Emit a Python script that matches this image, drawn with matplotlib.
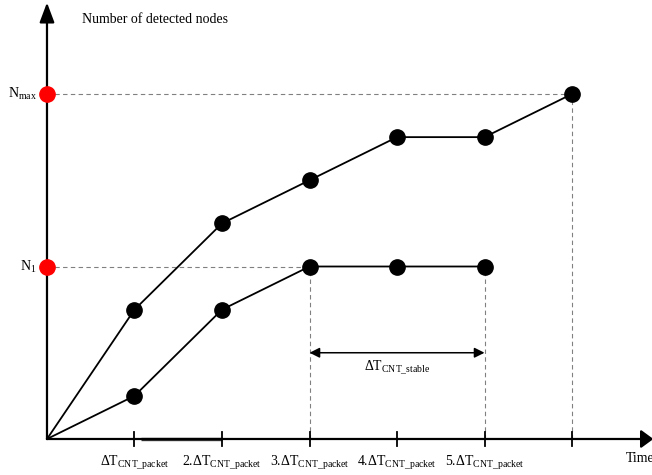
import matplotlib
matplotlib.use("Agg")
import matplotlib.pyplot as plt

plt.rcParams['font.family'] = ['Liberation Serif', 'DejaVu Serif']
plt.rcParams['mathtext.fontset'] = 'custom'
plt.rcParams['mathtext.rm'] = 'Liberation Serif'
plt.rcParams['mathtext.it'] = 'Liberation Serif'

# Data (x in units of ΔT_CNT_packet, y in node units)
upper_x = [0, 1, 2, 3, 4, 5, 6]
upper_y = [0, 3, 5, 6, 7, 7, 8]
lower_x = [0, 1, 2, 3, 4, 5]
lower_y = [0, 1, 3, 4, 4, 4]
n_max = 8
n_1 = 4
tick_pos = [1, 2, 3, 4, 5, 6]
tick_labels = [r'$\Delta\mathrm{T}_{\mathrm{CNT\_packet}}$',
               r'2.$\Delta\mathrm{T}_{\mathrm{CNT\_packet}}$',
               r'3.$\Delta\mathrm{T}_{\mathrm{CNT\_packet}}$',
               r'4.$\Delta\mathrm{T}_{\mathrm{CNT\_packet}}$',
               r'5.$\Delta\mathrm{T}_{\mathrm{CNT\_packet}}$',
               '']
stable_start, stable_end, stable_y = 3, 5, 2

fig = plt.figure(figsize=(6.52, 4.75), dpi=100)
ax = fig.add_axes([0, 0, 1, 1])
ax.set_xlim(-0.537, 6.914)
ax.set_ylim(-0.835, 10.18)
ax.axis('off')

dash_kw = dict(color='#808080', lw=0.8, ls=(0, (4, 3)))
# dashed guides
ax.plot([0, 6], [n_max, n_max], **dash_kw)
ax.plot([0, 3], [n_1, n_1], **dash_kw)
ax.plot([3, 3], [0, n_1], **dash_kw)
ax.plot([5, 5], [0, n_1], **dash_kw)
ax.plot([6, 6], [0, n_max], **dash_kw)

# axes arrows
ax.annotate('', xy=(0, 10.12), xytext=(0, 0), annotation_clip=False,
            arrowprops=dict(arrowstyle='-|>,head_width=0.45,head_length=1.2',
                            color='black', lw=1.6, shrinkA=0, shrinkB=0))
ax.annotate('', xy=(6.93, 0), xytext=(0, 0), annotation_clip=False,
            arrowprops=dict(arrowstyle='-|>,head_width=0.55,head_length=0.75',
                            color='black', lw=1.6, shrinkA=0, shrinkB=0))
# slightly heavier segment on the time axis (as in the original drawing)
ax.plot([1.08, 2.0], [0, 0], color='#333333', lw=2.4, solid_capstyle='butt')

# ticks
for t in tick_pos:
    ax.plot([t, t], [-0.17, 0.17], color='black', lw=1.3)
for t, lab in zip(tick_pos, tick_labels):
    ax.text(t, -0.55, lab, ha='center', va='center', fontsize=10)
ax.text(6.62, -0.45, 'Time', ha='left', va='center', fontsize=10)

# series
ax.plot(upper_x, upper_y, color='black', lw=1.3)
ax.plot(lower_x, lower_y, color='black', lw=1.3)
ax.plot(upper_x[1:], upper_y[1:], 'o', color='black', ms=11)
ax.plot(lower_x[1:], lower_y[1:], 'o', color='black', ms=11)

# red points on y axis
ax.plot([0, 0], [n_max, n_1], 'o', color='#ff0000', ms=11, zorder=5)
ax.text(-0.12, n_max, r'N$_{\mathrm{max}}$', ha='right', va='center', fontsize=10)
ax.text(-0.12, n_1, r'N$_{1}$', ha='right', va='center', fontsize=10)

# y axis label
ax.text(0.4, 9.72, 'Number of detected nodes', ha='left', va='center', fontsize=10)

# stable double arrow
ax.annotate('', xy=(stable_end, stable_y), xytext=(stable_start, stable_y),
            arrowprops=dict(arrowstyle='<|-|>,head_width=0.3,head_length=0.6',
                            color='black', lw=1.1, shrinkA=0, shrinkB=0))
ax.text((stable_start + stable_end) / 2, stable_y - 0.35,
        r'$\Delta\mathrm{T}_{\mathrm{CNT\_stable}}$', ha='center', va='center', fontsize=10)

fig.savefig('out.png', dpi=100)
